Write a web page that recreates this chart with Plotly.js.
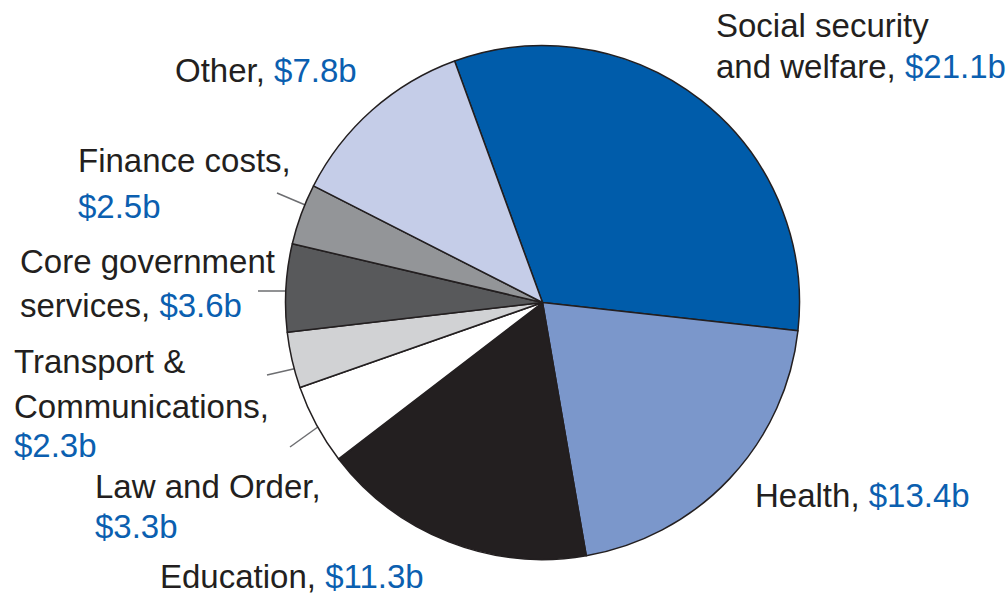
<!DOCTYPE html>
<html>
<head>
<meta charset="utf-8">
<script src="https://cdn.plot.ly/plotly-3.0.1.min.js"></script>
<style>
  html, body { margin: 0; padding: 0; background: #ffffff; }
  #chart { width: 1008px; height: 598px; }
</style>
</head>
<body>
<div id="chart"></div>
<script>
// ---- data ----
const categories = [
  'Social security and welfare',
  'Health',
  'Education',
  'Law and Order',
  'Transport & Communications',
  'Core government services',
  'Finance costs',
  'Other'
];
const values = [21.1, 13.4, 11.3, 3.3, 2.3, 3.6, 2.5, 7.8];
const sliceColors = ['#005CAA', '#7B97CB', '#231F20', '#FFFFFF', '#D1D2D4', '#58595B', '#939598', '#C5CDE8'];
// label text lines; {v} is replaced by the value
const labelLines = [
  ['Social security', 'and welfare, {v}'],
  ['Health, {v}'],
  ['Education, {v}'],
  ['Law and Order,', '{v}'],
  ['Transport &', 'Communications,', '{v}'],
  ['Core government', 'services, {v}'],
  ['Finance costs,', '{v}'],
  ['Other, {v}']
];

// ---- layout helpers (pixel positions of labels / leader lines) ----
const W = 1008, H = 598;
const px = x => x / W;
const py = y => 1 - y / H;
const labelPos = [
  [714, [26, 66]],
  [753, [495]],
  [158, [576]],
  [93, [486, 526]],
  [12, [361, 406, 446]],
  [18, [261, 305]],
  [76, [161, 206]],
  [173, [70]]
];
const leaders = [
  [277, 193, 310, 207],
  [258, 291, 298, 291],
  [267, 375, 302, 367],
  [290, 447, 322, 424]
];

const valueColor = '#0B5FB0';
const textColor = '#231F20';
const fontFamily = 'Liberation Sans, Arial, Helvetica, sans-serif';

const annotations = [];
labelLines.forEach((lines, i) => {
  const vs = '<span style="color:' + valueColor + '">$' + values[i].toFixed(1) + 'b</span>';
  lines.forEach((ln, j) => {
    annotations.push({
      xref: 'paper', yref: 'paper',
      x: px(labelPos[i][0]), y: py(labelPos[i][1][j]),
      xanchor: 'left', yanchor: 'middle',
      text: ln.replace('{v}', vs),
      showarrow: false,
      font: { family: fontFamily, size: 33, color: textColor }
    });
  });
});

const shapes = leaders.map(l => ({
  type: 'line', xref: 'paper', yref: 'paper', layer: 'below',
  x0: px(l[0]), y0: py(l[1]), x1: px(l[2]), y1: py(l[3]),
  line: { color: '#6D6E71', width: 1.5 }
}));

const cx = 542.5, cy = 302.5, r = 257;
const trace = {
  type: 'pie',
  labels: categories,
  values: values,
  sort: false,
  direction: 'clockwise',
  rotation: -20,
  textinfo: 'none',
  hoverinfo: 'label+value',
  marker: { colors: sliceColors, line: { color: '#231F20', width: 1.5 } },
  domain: { x: [px(cx - r), px(cx + r)], y: [py(cy + r), py(cy - r)] }
};

const layout = {
  width: W, height: H,
  margin: { l: 0, r: 0, t: 0, b: 0 },
  paper_bgcolor: '#ffffff',
  plot_bgcolor: '#ffffff',
  showlegend: false,
  annotations: annotations,
  shapes: shapes
};

Plotly.newPlot('chart', [trace], layout, { displayModeBar: false, staticPlot: true });
</script>
</body>
</html>
